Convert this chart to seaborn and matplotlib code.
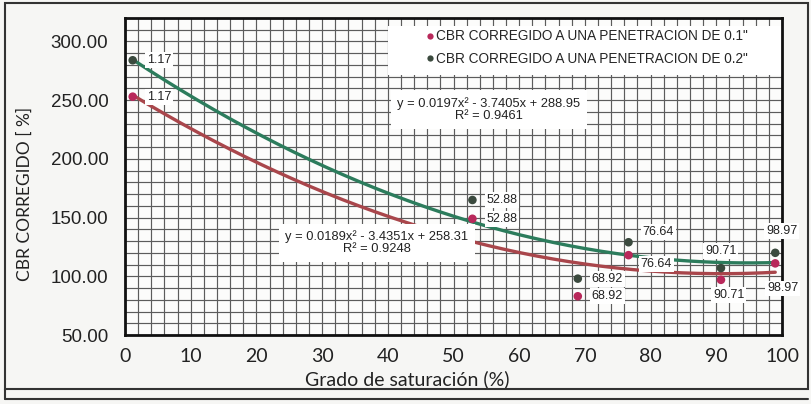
import numpy as np
import pandas as pd
import matplotlib
matplotlib.use("Agg")
import matplotlib.pyplot as plt
from matplotlib.lines import Line2D
from matplotlib.patches import Rectangle
from matplotlib.ticker import MultipleLocator, FormatStrFormatter
import seaborn as sns

# Degree of saturation (%) for each specimen
saturacion = [1.17, 52.88, 68.92, 76.64, 90.71, 98.97]
# Corrected CBR at 0.1" and 0.2" penetration (%)
cbr_01 = [253.0, 149.0, 83.0, 118.0, 97.0, 111.0]
cbr_02 = [284.0, 165.0, 98.0, 129.0, 107.0, 120.0]

# Quadratic trendline coefficients (a, b, c) for y = a*x^2 + b*x + c
coef_01 = [0.0189, -3.4351, 258.31]
coef_02 = [0.0197, -3.7405, 288.95]
r2_01 = 0.9248
r2_02 = 0.9461

serie_01 = 'CBR CORREGIDO A UNA PENETRACION DE 0.1"'
serie_02 = 'CBR CORREGIDO A UNA PENETRACION DE 0.2"'

x_ticks = [0, 10, 20, 30, 40, 50, 60, 70, 80, 90, 100]
y_ticks = [50, 100, 150, 200, 250, 300]

c_pt01, c_pt02 = "#b8285a", "#3b4a3e"
c_ln01, c_ln02 = "#a9464b", "#2c7c5c"

sns.set_theme(style="white")
plt.rcParams["font.family"] = ["Liberation Sans", "DejaVu Sans"]

fig = plt.figure(figsize=(8.11, 4.04), dpi=100, facecolor="#f6f6f4")
ax = fig.add_axes([125 / 811, 1 - 335 / 404, (782 - 125) / 811, (335 - 18) / 404])
ax.set_facecolor("#fcfcfb")

ax.set_xlim(0, 100)
ax.set_ylim(50, 320)

# graph-paper grid
ax.xaxis.set_minor_locator(MultipleLocator(2))
ax.yaxis.set_minor_locator(MultipleLocator(10))
ax.grid(which="both", color="#5c5c5c", linewidth=0.85, zorder=0)
ax.set_axisbelow(True)

# trendlines
xs = np.linspace(saturacion[0], saturacion[-1], 200)
trend = pd.DataFrame({
    "x": np.concatenate([xs, xs]),
    "y": np.concatenate([np.polyval(coef_01, xs), np.polyval(coef_02, xs)]),
    "serie": [serie_01] * len(xs) + [serie_02] * len(xs),
})
sns.lineplot(data=trend, x="x", y="y", hue="serie",
             palette={serie_01: c_ln01, serie_02: c_ln02},
             linewidth=2.4, legend=False, ax=ax, zorder=3)

pts = pd.DataFrame({
    "x": saturacion * 2,
    "y": cbr_01 + cbr_02,
    "serie": [serie_01] * len(saturacion) + [serie_02] * len(saturacion),
})
sns.scatterplot(data=pts, x="x", y="y", hue="serie",
                palette={serie_01: c_pt01, serie_02: c_pt02},
                s=38, edgecolor="none", legend=False, ax=ax, zorder=5)

# point labels (value of saturation), offsets in pixels (right, up)
lab_box = dict(boxstyle="square,pad=0.15", fc="white", ec="none")
off_02 = [(14, 0), (14, 0), (14, 0), (14, 10), (-16, 17), (-9, 22)]
off_01 = [(14, 0), (14, 0), (14, 0), (12, -9), (-8, -15), (-8, -25)]
for yvals, offs in ((cbr_02, off_02), (cbr_01, off_01)):
    for xv, yv, (dx, dy) in zip(saturacion, yvals, offs):
        ax.annotate(f"{xv:.2f}", (xv, yv), xytext=(dx, dy), textcoords="offset pixels",
                    ha="left", va="center", fontsize=9, color="#222222",
                    bbox=lab_box, zorder=8, annotation_clip=False)

# trendline equations
def eq_text(c, r2):
    return f"y = {c[0]:.4f}x² - {abs(c[1]):.4f}x + {c[2]:.2f}\nR² = {r2:.4f}"

eq_box = dict(boxstyle="square,pad=0.5", fc="white", ec="none")
ax.text(55.4, 242, eq_text(coef_02, r2_02), ha="center", va="center",
        fontsize=9.3, color="#222222", linespacing=1.05, bbox=eq_box, zorder=4)
ax.text(38.3, 128.5, eq_text(coef_01, r2_01), ha="center", va="center",
        fontsize=9.3, color="#222222", linespacing=1.05, bbox=eq_box, zorder=4)

# legend panel
ax.add_patch(Rectangle((0.4, 0.82), 0.6, 0.155, transform=ax.transAxes,
                       fc="white", ec="none", zorder=2))
handles = [Line2D([], [], marker="o", linestyle="none", markersize=4.5,
                  markerfacecolor=c, markeredgecolor="none")
           for c in (c_pt01, c_pt02)]
ax.legend(handles, [serie_01, serie_02], loc="upper right",
          bbox_to_anchor=(0.96, 0.99), frameon=False, fontsize=9.8,
          handletextpad=0.0, handlelength=0.8, labelspacing=0.6,
          borderaxespad=0.2)

ax.set_xticks(x_ticks)
ax.set_yticks(y_ticks)
ax.yaxis.set_major_formatter(FormatStrFormatter("%.2f"))
ax.tick_params(axis="both", which="both", length=0, colors="#222222")
ax.tick_params(axis="y", labelsize=13.5, pad=12)
ax.tick_params(axis="x", labelsize=14, pad=9)
for lab in ax.get_xticklabels():
    lab.set_fontfamily("Lato")
for lab in ax.get_yticklabels():
    lab.set_fontfamily(["Liberation Sans", "DejaVu Sans"])

ax.set_xlabel("Grado de saturación (%)", fontfamily="Lato", fontsize=14, color="#222222")
ax.set_ylabel("CBR CORREGIDO [ %]", fontfamily="Lato", fontsize=12.5, color="#222222")
ax.xaxis.set_label_coords((407 - 125) / 657, -(370 - 335) / 317)
ax.yaxis.set_label_coords(-(125 - 33) / 657, 1 - (194 - 18) / 317)

for sp in ax.spines.values():
    sp.set_color("#111111")
    sp.set_linewidth(2)
    sp.set_zorder(7)

# outer frame of the sheet
fig.add_artist(Rectangle((5 / 811, 1 - 389 / 404), 803 / 811, 386 / 404,
                         transform=fig.transFigure, fc="none", ec="#333333", lw=1.5))
fig.add_artist(Line2D([5 / 811, 808 / 811], [1 - 399 / 404, 1 - 399 / 404],
                      transform=fig.transFigure, color="#333333", lw=1.5))
fig.add_artist(Line2D([5 / 811, 5 / 811], [1 - 389 / 404, 1 - 399 / 404],
                      transform=fig.transFigure, color="#333333", lw=1.5))

fig.savefig("out.png", dpi=100, facecolor=fig.get_facecolor())
